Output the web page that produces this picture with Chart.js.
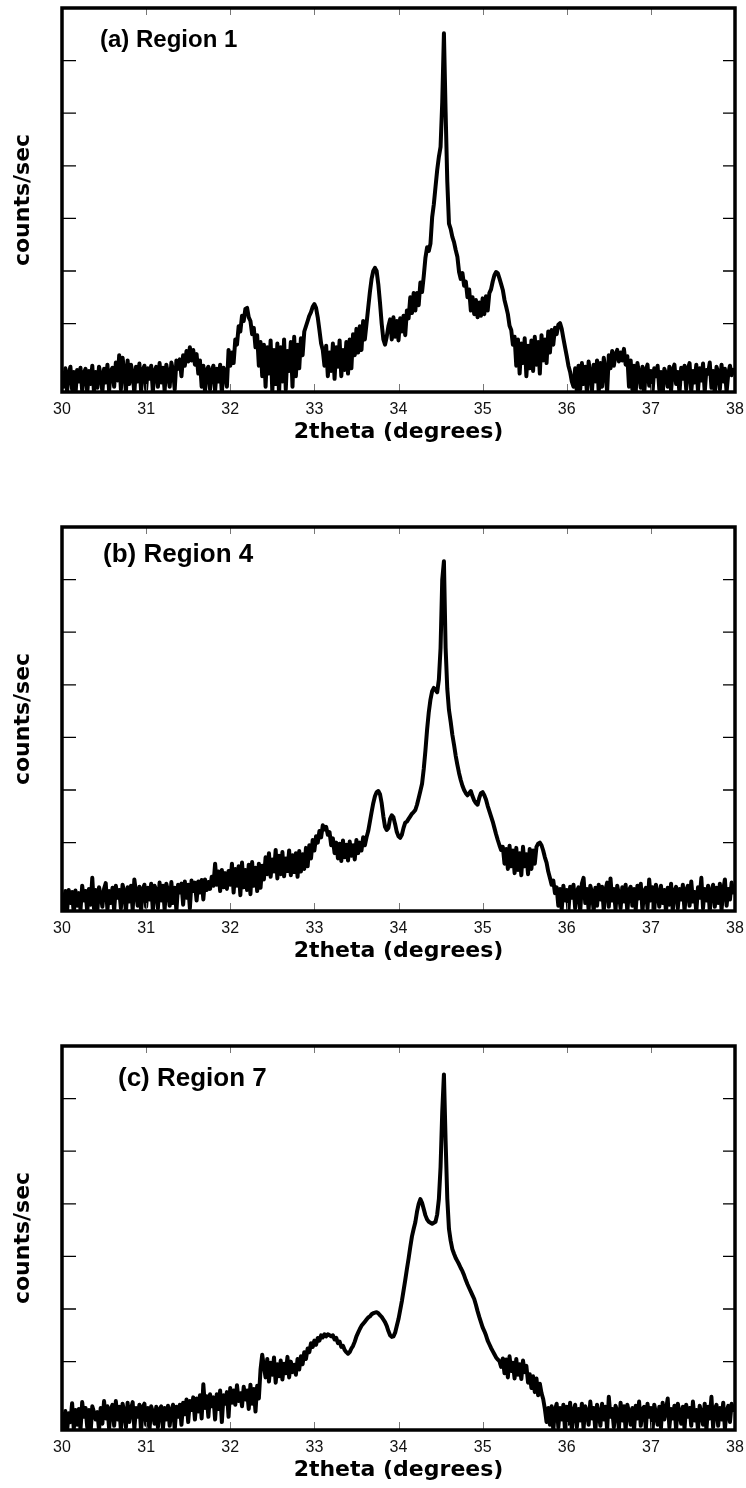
<!DOCTYPE html>
<html lang="en">
<head>
  <meta charset="UTF-8" />
  <title>XRD regions</title>
  <script src="https://cdn.jsdelivr.net/npm/chart.js"></script>
  <style>
    body { margin:0; background:#fff; }
    .wrap { position:relative; width:746px; height:1488px; }
    .panel { position:absolute; left:0; width:746px; height:460px; }
  </style>
</head>
<body>
  <div class="wrap">
    <div class="panel" style="top:0px"><canvas id="c1"></canvas></div>
    <div class="panel" style="top:519px"><canvas id="c2"></canvas></div>
    <div class="panel" style="top:1038px"><canvas id="c3"></canvas></div>
  </div>
  <script>
    // step scan, 2theta from 30 to 38 every 0.02 deg
    const xStart = 30, xStep = 0.02;
    const xTicks = [30, 31, 32, 33, 34, 35, 36, 37, 38];
    const yTicks = [100, 200, 300, 400, 500, 600];
    const panelLabels = ['(a) Region 1', '(b) Region 4', '(c) Region 7'];

    const region1 = [
      10,-20,15,-30,5,18,-25,8,-35,12,
      -10,16,-28,6,14,-32,10,-15,20,-30,
      8,-22,18,2,-30,14,-12,22,-28,10,
      16,-20,26,-8,40,-25,35,10,-30,30,
      -15,22,5,-32,18,-10,24,-28,12,20,
      -25,15,-5,20,-30,10,18,-20,25,-12,
      16,-28,22,4,-20,26,10,-25,30,14,
      32,0,40,20,48,28,55,30,50,22,
      42,5,30,-20,20,-30,12,18,-25,10,
      20,-28,14,-10,22,-32,16,8,-20,50,
      20,45,25,70,60,95,85,115,105,128,
      130,112,105,80,92,55,78,20,65,0,
      60,-20,55,5,68,-30,50,-15,62,-35,
      55,-10,70,-25,48,10,65,-20,75,0,
      60,15,72,40,85,95,105,115,122,132,
      137,130,112,88,62,50,20,58,0,45,
      10,62,-5,55,18,68,0,50,12,65,
      5,70,15,80,40,90,45,95,50,105,
      70,100,130,160,185,200,206,200,175,140,
      100,70,60,75,95,108,70,112,75,105,
      68,110,85,115,78,125,110,150,120,158,
      125,158,135,178,160,190,225,245,238,252,
      302,327,360,392,417,436,521,652,502,370,
      290,280,265,255,240,227,198,185,196,172,
      180,150,165,125,150,118,145,112,140,115,
      148,118,152,125,158,165,180,192,198,196,
      186,175,164,145,132,118,96,88,60,75,
      20,70,5,62,25,72,0,58,15,68,
      10,75,22,65,5,78,30,70,25,85,
      45,88,60,92,80,98,101,90,72,55,
      38,20,8,-10,-20,15,-30,20,-25,25,
      -15,18,-32,28,5,-28,22,-10,30,-30,
      25,-20,35,10,-30,40,15,48,20,42,
      50,28,45,30,52,22,38,-20,30,-25,
      20,-30,25,5,-22,18,-35,12,22,-18,
      10,-30,15,0,20,-25,8,-35,14,5,
      -20,18,-28,12,22,-15,8,-32,16,-5,
      20,-25,14,25,-30,10,-12,22,-28,15,
      -8,24,-30,12,5,26,-22,10,-35,18,
      8,-25,22,-10,14,-30,5,20,2,12,
      10
    ];

    const region4 = [
      5,-25,8,-30,10,-15,6,-35,9,-20,
      4,-28,18,-10,8,-32,12,-18,33,-25,
      10,-30,15,2,-22,12,23,-28,8,-15,
      14,-30,18,-5,10,-25,20,6,-32,15,
      -12,18,-28,30,5,-20,16,-30,12,20,
      -22,14,-8,22,-30,18,10,-25,24,-10,
      18,-28,22,8,-20,25,-15,14,-30,20,
      5,22,-18,26,-5,20,-25,28,8,24,
      -10,26,5,29,-8,30,10,25,12,35,
      18,60,20,45,8,48,15,42,12,46,
      20,60,5,50,18,55,0,62,15,48,
      10,58,2,63,18,52,8,60,14,56,
      30,72,40,80,35,68,45,86,32,75,
      40,82,36,70,46,85,38,76,44,80,
      35,84,45,78,50,90,55,95,70,105,
      85,112,100,122,110,133,125,130,115,120,
      95,108,80,100,70,98,65,104,72,96,
      66,102,75,95,68,105,80,100,85,110,
      95,110,122,140,158,175,188,196,198,192,
      175,150,130,124,128,145,152,148,135,120,
      112,109,115,128,138,140,145,150,155,158,
      162,172,185,198,212,240,275,315,348,372,
      388,394,390,386,410,470,600,635,470,392,
      352,330,305,286,265,248,232,219,208,200,
      194,190,194,198,188,180,175,172,185,194,
      196,190,182,170,160,150,140,128,116,105,
      95,86,92,60,88,50,94,55,85,42,
      90,48,80,38,92,55,78,40,88,50,
      85,60,92,98,100,95,85,72,62,45,
      33,20,28,4,15,-20,12,-28,18,-10,
      10,-30,16,-5,20,-25,8,15,-32,22,
      33,-15,12,-28,18,5,-30,14,-20,20,
      -8,16,-30,10,24,-22,32,-10,12,-28,
      18,2,-25,15,-12,20,-32,10,16,-20,
      12,-28,18,-6,22,-30,8,14,-25,30,
      -10,15,-30,20,4,-22,18,-15,10,-32,
      14,-18,22,-30,8,16,-25,12,-8,20,
      -30,10,18,-20,26,-12,6,-32,15,-5,
      33,-25,12,-10,18,-30,8,20,-22,14,
      -15,22,-28,10,30,-20,12,-8,24,5,
      10
    ];

    const region7 = [
      4,-25,6,-32,2,-15,21,-28,8,-20,
      10,-30,23,-5,12,-25,8,-35,15,4,
      -10,4,-30,12,-18,25,-8,15,-28,10,
      18,-22,25,-10,14,-30,20,5,-25,22,
      -15,10,23,-28,12,-5,18,-32,14,20,
      -20,12,-30,15,4,-18,14,-25,10,15,
      -28,12,-10,16,-22,8,18,-30,14,-5,
      18,-20,22,0,28,-15,25,8,32,-10,
      30,5,36,-8,57,12,34,-5,38,15,
      32,-10,38,10,45,-15,36,20,42,-5,
      50,22,45,18,55,25,40,15,52,28,
      45,10,56,20,48,5,54,30,85,113,
      90,70,105,62,98,75,108,60,95,72,
      102,66,96,78,109,70,100,80,94,75,
      105,85,110,95,118,105,125,118,135,128,
      140,132,145,140,150,146,152,148,152,150,
      148,150,142,145,135,138,128,130,122,118,
      115,118,125,130,138,148,155,162,168,172,
      176,180,184,186,190,192,193,194,192,188,
      185,180,175,168,158,150,147,148,155,168,
      181,198,215,235,255,276,296,318,338,352,
      365,385,400,409,402,390,378,370,366,364,
      362,364,366,380,409,470,575,646,520,410,
      352,330,314,305,297,291,285,278,272,264,
      255,247,240,233,226,219,208,196,185,175,
      165,158,150,140,133,126,120,114,108,104,
      101,90,106,78,104,70,110,82,98,68,
      105,75,95,67,102,80,92,60,76,50,
      72,42,68,36,58,40,29,10,-15,12,
      -20,15,-30,8,20,-25,12,-10,18,-32,
      14,-18,22,-30,6,18,-25,10,-12,20,
      -28,15,5,-20,24,-8,12,-32,18,2,
      -22,20,-10,14,-30,33,-5,10,-25,16,
      6,-28,22,-12,15,-30,18,4,-20,12,
      -30,16,-8,24,-22,10,14,-28,20,-5,
      12,-32,18,2,-20,14,-26,22,-10,8,
      30,-25,10,-8,16,-30,20,4,-18,14,
      -28,18,-5,12,-22,24,-12,8,-30,16,
      2,-20,20,-30,14,-8,33,-25,10,18,
      -22,12,-10,22,-28,6,16,-15,20,8,
      10
    ];

    // label offsets from the top-left corner of the plot box, and font size
    const labelPos = [[38, 39, 24], [41, 35, 26], [56, 40, 26]];

    const frame = {
      id: 'frame',
      afterDatasetsDraw(chart, args, opts) {
        const {ctx, chartArea: a, scales: {x, y}} = chart;
        ctx.save();
        ctx.lineCap = 'butt';
        ctx.strokeStyle = '#777';
        ctx.lineWidth = 1;
        x.ticks.forEach(t => {
          if (t.value <= 30 || t.value >= 38) return;
          const px = Math.round(x.getPixelForValue(t.value)) + 0.5;
          ctx.beginPath();
          ctx.moveTo(px, a.top); ctx.lineTo(px, a.top + 7);
          ctx.moveTo(px, a.bottom); ctx.lineTo(px, a.bottom - 8);
          ctx.stroke();
        });
        ctx.strokeStyle = '#000';
        ctx.lineWidth = 1.3;
        y.ticks.forEach(t => {
          const py = y.getPixelForValue(t.value);
          ctx.beginPath();
          ctx.moveTo(a.left, py); ctx.lineTo(a.left + 14, py);
          ctx.moveTo(a.right, py); ctx.lineTo(a.right - 12, py);
          ctx.stroke();
        });
        ctx.lineWidth = 3.5;
        ctx.strokeRect(a.left, a.top, a.right - a.left, a.bottom - a.top);
        ctx.fillStyle = '#000';
        ctx.font = 'bold ' + opts.size + 'px "Liberation Sans", Arial, sans-serif';
        ctx.textBaseline = 'alphabetic';
        ctx.fillText(opts.label, a.left + opts.dx, a.top + opts.dy);
        ctx.restore();
      }
    };

    function makeChart(id, values, idx) {
      const pts = values.map((v, i) => ({x: xStart + i * xStep, y: v}));
      return new Chart(document.getElementById(id), {
        type: 'line',
        data: {datasets: [{data: pts, borderColor: '#000', borderWidth: 4,
          pointRadius: 0, borderJoinStyle: 'round', tension: 0, clip: 0}]},
        options: {
          responsive: true, maintainAspectRatio: false, animation: false,
          layout: {padding: {left: 0, right: 11, top: 8, bottom: 0}},
          plugins: {legend: {display: false}, tooltip: {enabled: false},
            frame: {label: panelLabels[idx], dx: labelPos[idx][0], dy: labelPos[idx][1], size: labelPos[idx][2]}},
          scales: {
            x: {
              type: 'linear', min: 30, max: 38,
              afterBuildTicks: s => { s.ticks = xTicks.map(v => ({value: v})); },
              afterFit: s => { s.height = 68; s.paddingLeft = 0; s.paddingRight = 0; },
              grid: {display: false, drawTicks: false},
              border: {display: false},
              ticks: {color: '#111', padding: 8, maxRotation: 0,
                font: {family: '"Liberation Sans", Arial, sans-serif', size: 16}},
              title: {display: true, text: '2theta (degrees)', color: '#000',
                padding: {top: 0, bottom: 15},
                font: {family: '"DejaVu Sans", sans-serif', size: 22, weight: 'bold'}}
            },
            y: {
              min: -30, max: 700,
              afterBuildTicks: s => { s.ticks = yTicks.map(v => ({value: v})); },
              afterFit: s => { s.width = 62; s.paddingTop = 0; s.paddingBottom = 0; },
              grid: {display: false, drawTicks: false},
              border: {display: false},
              ticks: {display: false},
              title: {display: true, text: 'counts/sec', color: '#000',
                padding: {top: 10, bottom: 0},
                font: {family: '"DejaVu Sans", sans-serif', size: 22, weight: 'bold'}}
            }
          }
        },
        plugins: [frame]
      });
    }

    makeChart('c1', region1, 0);
    makeChart('c2', region4, 1);
    makeChart('c3', region7, 2);
  </script>
</body>
</html>
